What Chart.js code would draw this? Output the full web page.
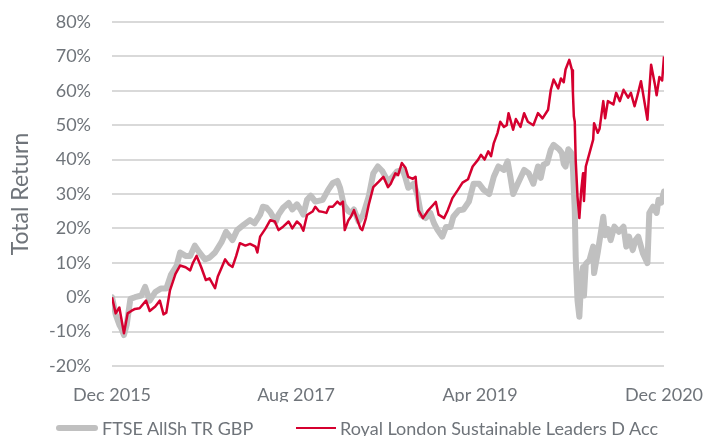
<!DOCTYPE html>
<html>
<head>
<meta charset="utf-8">
<script src="https://cdn.jsdelivr.net/npm/chart.js@4"></script>
<style>
  body { margin: 0; background: #fff; }
  .wrap { position: relative; width: 705px; height: 436px; }
  #legend { position: absolute; left: 0; top: 418px; width: 705px; height: 20px;
            font: 18px Lato, "Open Sans", sans-serif; color: #6f747a; line-height: 20px; }
  .item { position: absolute; top: 0; white-space: nowrap; display: flex; align-items: center; }
  .swatch { display: inline-block; margin-right: 4px; }
</style>
</head>
<body>
<div class="wrap">
  <canvas id="returnChart" width="705" height="436"></canvas>
  <div id="legend"></div>
</div>
<script>
// months since Dec 2015 and total return (%)
const xTickLabels = ['Dec 2015', 'Aug 2017', 'Apr 2019', 'Dec 2020'];
const seriesNames = ['FTSE AllSh TR GBP', 'Royal London Sustainable Leaders D Acc'];

const ftseMonths = [0, 0.4, 0.8, 1.0, 1.3, 1.6, 2.0, 2.5, 3.2, 3.6, 4.1, 4.7, 5.3, 5.9, 6.4, 7.0, 7.4, 8.0, 8.5, 9.0,
  9.5, 10.1, 10.6, 11.2, 11.9, 12.4, 12.7, 13.1, 13.6, 14.3, 15.0, 15.5, 16.1, 16.4, 16.8, 17.2, 17.8, 18.1, 18.6, 19.2,
  19.6, 20.1, 20.5, 20.8, 21.2, 21.6, 22.1, 22.9, 23.5, 24.0, 24.5, 24.8, 25.2, 25.7, 26.0, 26.3, 26.8, 27.3, 27.9, 28.4,
  28.9, 29.4, 30.0, 30.5, 31.0, 31.6, 31.9, 32.2, 32.8, 33.2, 33.6, 34.1, 34.6, 35.0, 35.4, 35.9, 36.3, 36.8, 37.1, 37.7,
  38.2, 38.8, 39.3, 39.9, 40.4, 41.0, 41.5, 42.0, 42.6, 43.0, 43.3, 43.6, 44.1, 44.8, 45.3, 45.8, 46.3, 46.6, 46.9, 47.3,
  47.7, 48.0, 48.6, 48.9, 49.1, 49.3, 49.6, 49.9, 50.1, 50.3, 50.4, 50.6, 50.8, 51.0, 51.2, 51.3, 51.5, 51.9, 52.3, 52.4,
  52.8, 53.4, 53.6, 53.9, 54.2, 54.6, 55.1, 55.6, 55.9, 56.2, 56.6, 56.9, 57.2, 57.7, 58.2, 58.4, 58.8, 59.2, 59.4, 59.7, 60.0];
const ftseValues = [0, -5, -8, -9, -11, -8, -0.5, 0, 0.5, 3, -1, 1.5, 2.5, 2.5, 6.5, 9, 13, 12, 12, 15,
  13, 11, 11.5, 13, 16, 19, 18, 16.6, 19.5, 21, 22.4, 21.5, 24, 26.3, 26, 24.8, 22, 24, 26, 27.4,
  25.5, 27, 25.5, 24, 28.3, 29.5, 27.8, 28.3, 31.2, 33.2, 33.8, 31.7, 26.8, 25, 24.5, 25.5, 22, 24, 29.2, 36,
  38, 36.6, 33.6, 35, 36.6, 37, 34.7, 31.8, 33, 29.7, 23.9, 23, 24.5, 21.5, 19.5, 17.6, 20.4, 20.4, 23.4, 25.3,
  25.5, 27.8, 33, 33, 31.2, 30, 35, 38, 37, 39.5, 35, 30, 33, 37, 36, 33, 38, 34.7, 38.5, 39,
  42.9, 44.3, 43, 41.9, 38.8, 38, 43, 42, 37.5, 25.3, 11.8, -1, -5.7, 5, 8.8, 0.5, 9.7, 10.8, 14.7, 7,
  13, 23.4, 18, 19.8, 16.6, 20.5, 19, 20.5, 14.7, 17.6, 13.7, 16.6, 17.6, 12.8, 9.9, 24.5, 26.3, 24.5, 28.3, 27.5, 30.7];

const rlMonths = [0, 0.4, 0.8, 1.0, 1.3, 1.7, 2.1, 2.5, 3.0, 3.7, 4.1, 4.7, 5.2, 5.6, 5.9, 6.3, 6.9, 7.4, 8.0, 8.5,
  8.8, 9.2, 9.7, 10.2, 10.6, 11.2, 11.5, 11.9, 12.3, 12.7, 13.1, 13.5, 13.9, 14.5, 15.0, 15.6, 15.8, 16.1, 16.7, 17.2,
  17.7, 18.1, 18.6, 19.2, 19.6, 20.1, 20.5, 20.8, 21.2, 21.8, 22.1, 22.5, 22.9, 23.3, 23.6, 24.0, 24.5, 24.8, 25.1, 25.3,
  25.7, 26.0, 26.3, 26.6, 27.0, 27.2, 27.6, 27.9, 28.4, 29.0, 29.5, 30.0, 30.3, 30.8, 31.1, 31.5, 31.9, 32.2, 32.7, 33.0,
  33.3, 33.8, 34.3, 34.9, 35.2, 35.5, 36.1, 36.5, 37.0, 37.6, 38.1, 38.7, 39.2, 39.8, 40.1, 40.5, 40.9, 41.2, 41.5, 41.9,
  42.2, 42.6, 42.9, 43.1, 43.6, 43.9, 44.4, 44.8, 45.2, 45.8, 46.3, 46.8, 47.4, 47.7, 48.0, 48.5, 48.8, 49.1, 49.3, 49.7,
  50.0, 50.1, 50.2, 50.3, 50.4, 50.6, 50.8, 51.0, 51.2, 51.3, 51.5, 51.9, 52.3, 52.4, 52.8, 53.0, 53.4, 53.6, 53.9, 54.5,
  54.8, 55.2, 55.6, 56.1, 56.4, 56.8, 57.1, 57.5, 57.8, 58.2, 58.4, 58.6, 59.0, 59.2, 59.5, 59.8, 60.0];
const rlValues = [0, -4.7, -3, -6, -10.5, -4.7, -4, -3.4, -3.2, -1, -4, -2.7, -1, -5, -4.5, 2, 6.8, 9.2, 8.7, 7.8,
  10, 12, 8.7, 5, 5.5, 2.6, 6, 8.5, 11, 9.5, 8.8, 12, 15.7, 15, 15.5, 14.7, 13, 17.6, 20, 22.4,
  22, 19.5, 20.5, 22, 20, 22, 21, 19.3, 23.9, 24.9, 26.3, 25, 24.8, 24.5, 26.3, 26.3, 27.8, 27, 27.8, 19.5,
  22.4, 23.5, 25.3, 23, 20, 19.5, 23, 26.8, 32, 33.6, 35, 32, 33, 36, 35.5, 39, 37.6, 35, 34.4, 35,
  25.3, 23, 25, 26.8, 27.7, 24, 23, 25.3, 28.8, 31.2, 33.3, 34.3, 38, 40, 41.4, 40, 42.4, 41, 44.8, 47.7,
  51, 49.5, 50, 53.5, 48.7, 51.8, 49.5, 53.5, 51, 50, 53.5, 52, 54.5, 60.3, 63.3, 60.7, 63.6, 62.5, 66.2, 69,
  66, 59.4, 52.6, 51, 40, 29.2, 23, 31, 36, 28, 38, 41.9, 45.8, 50.6, 47.8, 49, 57, 52, 57, 56,
  59.4, 57, 60.3, 58, 59.4, 55.5, 58.5, 62.8, 58, 51.6, 60, 67.6, 62, 58.7, 64, 63, 70];

const textColor = '#6f747a';
const fontFamily = 'Lato, "Open Sans", sans-serif';

const toPoints = (xs, ys) => xs.map((m, i) => ({ x: m, y: ys[i] }));

const ctx = document.getElementById('returnChart').getContext('2d');
const returnChart = new Chart(ctx, {
    type: 'line',
    data: {
        datasets: [{
            label: seriesNames[0],
            data: toPoints(ftseMonths, ftseValues),
            borderColor: '#c0c0c0',
            backgroundColor: '#c0c0c0',
            borderWidth: 6,
            borderCapStyle: 'round',
            borderJoinStyle: 'round',
            pointRadius: 0,
            tension: 0,
            order: 1
        }, {
            label: seriesNames[1],
            data: toPoints(rlMonths, rlValues),
            borderColor: '#d5002f',
            backgroundColor: '#d5002f',
            borderWidth: 2.5,
            borderJoinStyle: 'round',
            pointRadius: 0,
            tension: 0,
            order: 0
        }]
    },
    options: {
        responsive: false,
        animation: false,
        layout: {
            padding: { top: 22, right: 41, left: 0, bottom: 34 }
        },
        scales: {
            x: {
                type: 'linear',
                min: 0,
                max: 60,
                grid: { display: false, drawTicks: false },
                border: { display: false },
                afterFit: (scale) => {
                    scale.height = 36;
                    scale.paddingLeft = 0;
                    scale.paddingRight = 0;
                },
                afterBuildTicks: (scale) => {
                    scale.ticks = xTickLabels.map((_, i) => ({ value: i * 20 }));
                },
                ticks: {
                    color: textColor,
                    font: { family: fontFamily, size: 18 },
                    padding: 18,
                    maxRotation: 0,
                    callback: (value) => xTickLabels[Math.round(value / 20)]
                }
            },
            y: {
                min: -20,
                max: 80,
                grid: { color: '#d9d9d9', lineWidth: 2, drawTicks: false },
                border: { display: false },
                afterFit: (scale) => {
                    scale.width = 112;
                    scale.paddingTop = 0;
                    scale.paddingBottom = 0;
                },
                ticks: {
                    stepSize: 10,
                    color: textColor,
                    font: { family: fontFamily, size: 18 },
                    padding: 21,
                    callback: (value) => value + '%'
                },
                title: {
                    display: true,
                    text: 'Total Return',
                    color: textColor,
                    font: { family: fontFamily, size: 23 },
                    padding: { top: 7, bottom: 0 }
                }
            }
        },
        plugins: {
            legend: { display: false },
            tooltip: { enabled: false }
        }
    }
});

// html legend built from the datasets
const legendLefts = [56, 296];
const legendEl = document.getElementById('legend');
returnChart.data.datasets.forEach((ds, i) => {
    const item = document.createElement('div');
    item.className = 'item';
    item.style.left = legendLefts[i] + 'px';
    const sw = document.createElement('span');
    sw.className = 'swatch';
    sw.style.width = (i === 0 ? 42 : 40) + 'px';
    sw.style.height = ds.borderWidth + 'px';
    sw.style.borderRadius = i === 0 ? '3px' : '0';
    sw.style.background = ds.borderColor;
    const label = document.createElement('span');
    label.textContent = ds.label;
    item.appendChild(sw);
    item.appendChild(label);
    legendEl.appendChild(item);
});
</script>
</body>
</html>
